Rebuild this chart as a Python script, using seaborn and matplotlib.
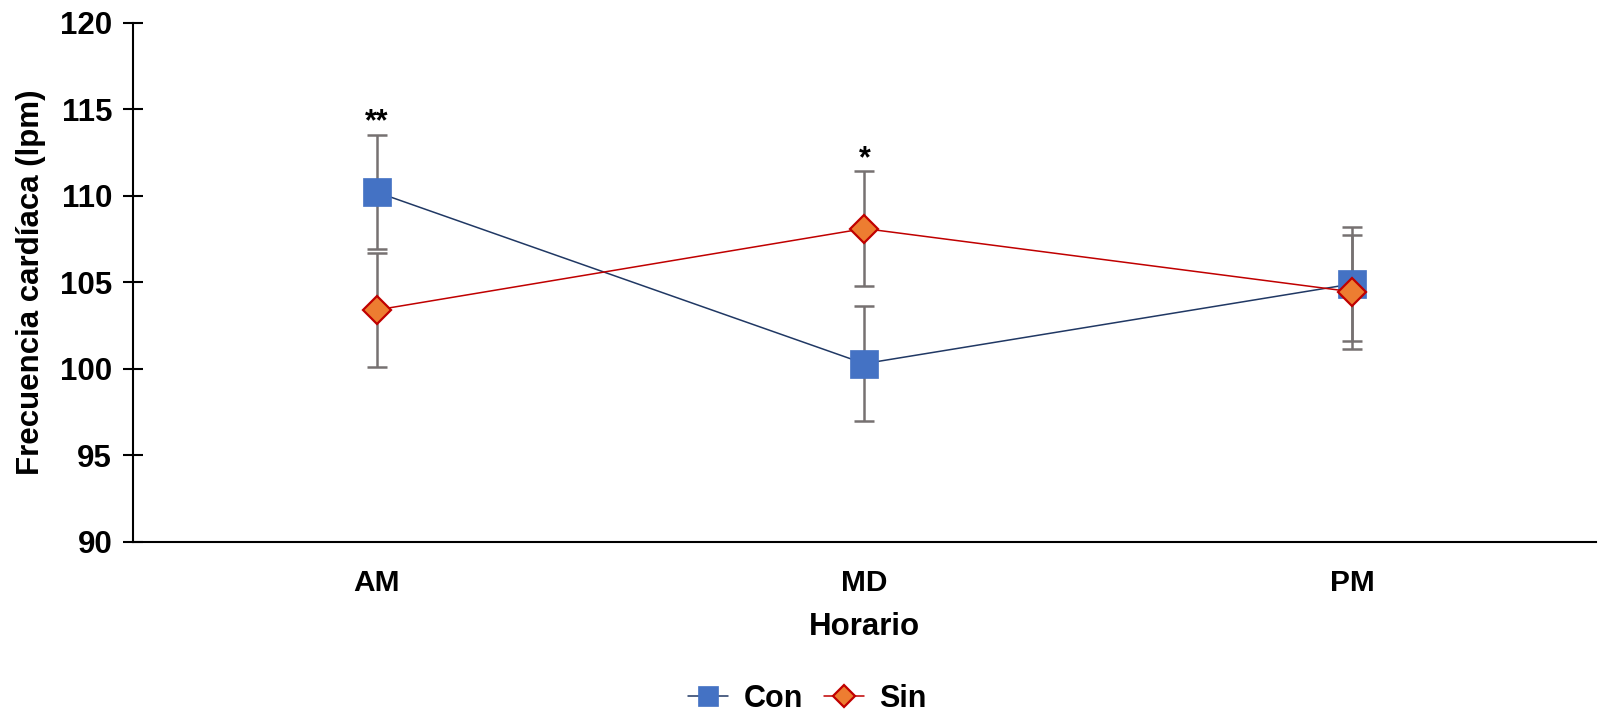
import matplotlib
matplotlib.use("Agg")
import matplotlib.pyplot as plt
import seaborn as sns
import pandas as pd

categories = ["AM", "MD", "PM"]
con_values = [110.2, 100.3, 104.9]
con_err = [3.3, 3.3, 3.3]
sin_values = [103.4, 108.1, 104.45]
sin_err = [3.3, 3.3, 3.3]
annotations = {"AM": "**", "MD": "*"}
yticks = [90, 95, 100, 105, 110, 115, 120]

sns.set_theme(style="white")
plt.rcParams["font.family"] = ["Liberation Sans", "DejaVu Sans"]
plt.rcParams["font.weight"] = "bold"
plt.rcParams["text.color"] = "black"
plt.rcParams["axes.labelcolor"] = "black"

df = pd.DataFrame({
    "Horario": categories * 2,
    "valor": con_values + sin_values,
    "grupo": ["Con"] * 3 + ["Sin"] * 3,
})

fig = plt.figure(figsize=(15.99, 7.17), dpi=100)
ax = fig.add_axes([0.0832, 0.2441, 0.9148, 0.7245])

err_color = "#767171"
pos = list(range(len(categories)))
ax.errorbar(pos, con_values, yerr=con_err, fmt="none", ecolor=err_color,
            elinewidth=1.8, capsize=7, capthick=1.8, zorder=2)
ax.errorbar(pos, sin_values, yerr=sin_err, fmt="none", ecolor=err_color,
            elinewidth=1.8, capsize=7, capthick=1.8, zorder=2)

sns.lineplot(data=df[df.grupo == "Con"], x="Horario", y="valor", ax=ax,
             color="#203864", linewidth=1.1, marker="s", markersize=20,
             markerfacecolor="#4472C4", markeredgecolor="#4472C4",
             markeredgewidth=0.5, label="Con", zorder=3)
sns.lineplot(data=df[df.grupo == "Sin"], x="Horario", y="valor", ax=ax,
             color="#C00000", linewidth=1.1, marker="D", markersize=14.5,
             markerfacecolor="#ED7D31", markeredgecolor="#C00000",
             markeredgewidth=1.6, label="Sin", zorder=4)

for cat, txt in annotations.items():
    i = categories.index(cat)
    top = max(con_values[i] + con_err[i], sin_values[i] + sin_err[i])
    ax.text(i, top - 0.15, txt, ha="center", va="bottom", fontsize=22,
            fontweight="bold", color="black")

ax.set_xlim(-0.5, len(categories) - 0.5)
ax.set_ylim(90, 120)
ax.set_yticks(yticks)
ax.set_yticklabels([str(t) for t in yticks], fontsize=22.5, fontweight="bold")
ax.set_xticks(pos)
ax.set_xticklabels(categories, fontsize=21.5, fontweight="bold")
ax.tick_params(axis="y", direction="inout", length=14, width=1.5, left=True,
               pad=8, colors="black")
ax.tick_params(axis="x", length=0, pad=19.5, colors="black")
ax.set_xlabel("Horario", fontsize=22.5, fontweight="bold", labelpad=11,
              color="black")
ax.set_ylabel("Frecuencia cardíaca (lpm)", fontsize=22.5, fontweight="bold",
              labelpad=10, color="black")
for s in ["top", "right"]:
    ax.spines[s].set_visible(False)
for s in ["left", "bottom"]:
    ax.spines[s].set_color("black")
    ax.spines[s].set_linewidth(1.5)

ax.get_legend().remove()
handles, labels = ax.get_legend_handles_labels()
fig.legend(handles, labels, loc="center", bbox_to_anchor=(0.505, 0.025),
           ncol=2, frameon=False, prop={"size": 22, "weight": "bold"},
           handlelength=1.3, handletextpad=0.5, columnspacing=0.7,
           markerscale=0.75, borderpad=0.1)

fig.savefig("out.png", dpi=100)
